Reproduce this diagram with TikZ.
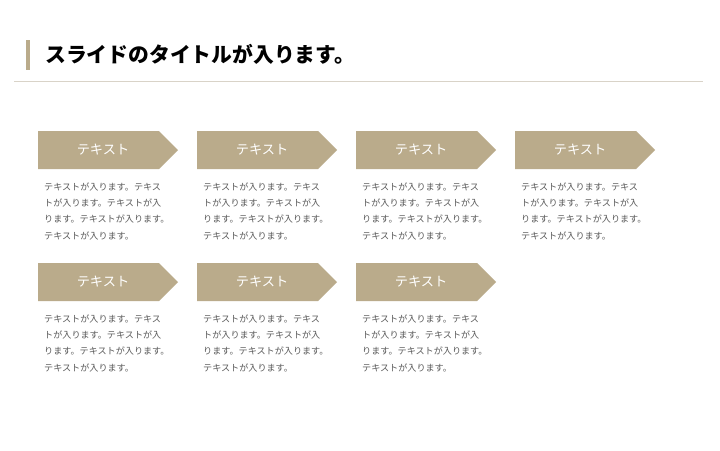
\documentclass[tikz,border=0pt]{standalone}
\usepackage{fontspec}
\newfontfamily\jp{Noto Sans CJK JP}
\definecolor{tanfill}{HTML}{BAAB8B}
\definecolor{rulecol}{HTML}{D9D3C8}
\definecolor{bodytext}{HTML}{5A5A5A}
\tikzset{
  tagshape/.style={fill=tanfill, draw=none},
  taglabel/.style={font=\jp\fontsize{13.2}{13}\selectfont, text=white, inner sep=0pt},
  bodyblock/.style={font=\jp\fontsize{9.1}{16.2}\selectfont, text=bodytext, align=left, anchor=north west, inner sep=0pt},
}
\newcommand\cardbox[3]{% x, y, name
  \fill[tagshape] (#1,#2) -- ++(121,0) -- ++(19,19) -- ++(-19,19) -- ++(-121,0) -- cycle;
  \node[taglabel] (#3t) at (#1+65,#2+19) {テキスト};
  \node[bodyblock] (#3b) at (#1+6,#2+51.5) {テキストが入ります。テキス\\トが入ります。テキストが入\\ります。テキストが入ります。\\テキストが入ります。};
}
\begin{document}
\begin{tikzpicture}[x=1pt,y=-1pt]
\useasboundingbox (0,0) rectangle (720,450);
\fill[white] (0,0) rectangle (720,450);
\fill[tanfill] (26,40) rectangle (30,70);
\node[anchor=west, inner sep=0pt, font=\jp\bfseries\fontsize{20.8}{20.8}\selectfont] (title) at (45,54.5) {スライドのタイトルが入ります。};
\draw[rulecol, line width=1pt] (14,81) -- (703,81);
\cardbox{38}{131}{a}
\cardbox{197}{131}{b}
\cardbox{356}{131}{c}
\cardbox{515}{131}{d}
\cardbox{38}{263}{e}
\cardbox{197}{263}{f}
\cardbox{356}{263}{g}
\end{tikzpicture}
\end{document}
